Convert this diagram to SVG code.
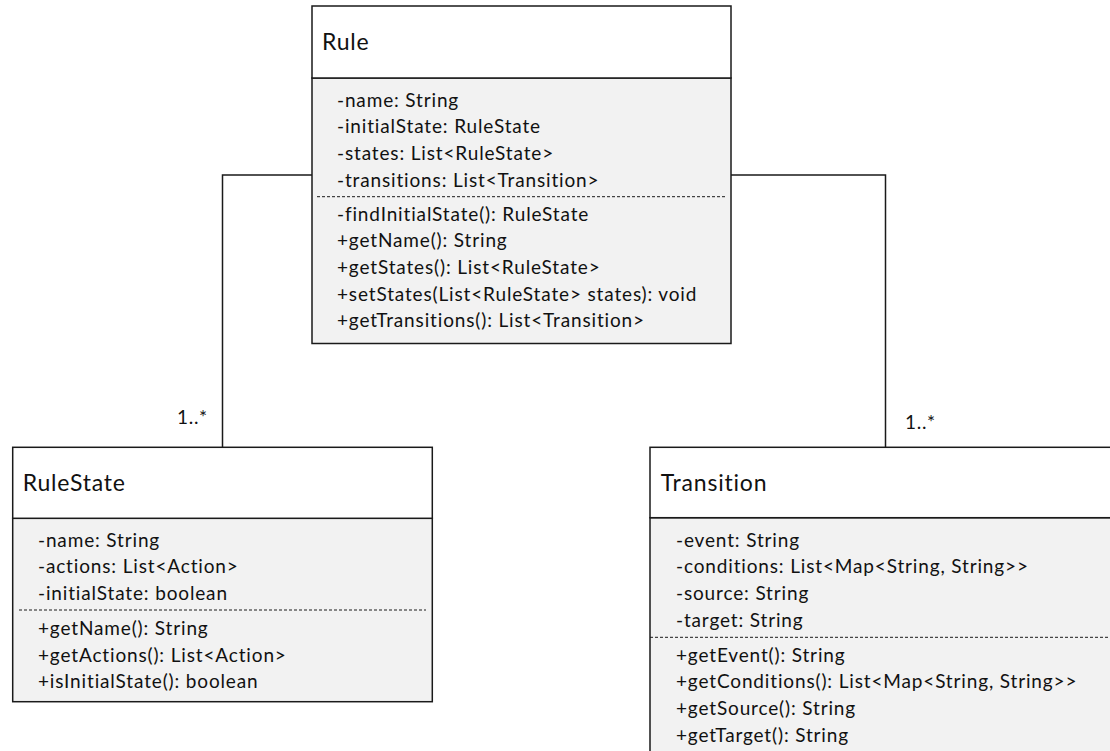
<svg xmlns="http://www.w3.org/2000/svg" width="1110" height="751" viewBox="0 0 1110 751">
  <style>
    .hdr { fill: #ffffff; stroke: #1a1a1a; stroke-width: 1.5; }
    .body { fill: #f2f2f2; stroke: #1a1a1a; stroke-width: 1.5; }
    .sep { stroke: #1a1a1a; stroke-width: 1; stroke-dasharray: 3 2; }
    .title { font-family: Lato, "Liberation Sans", sans-serif; font-size: 23px; letter-spacing: 0.8px; fill: #111; }
    .row { font-family: Lato, "Liberation Sans", sans-serif; font-size: 19px; letter-spacing: 0.85px; fill: #111; }
    .edge { fill: none; stroke: #1a1a1a; stroke-width: 1.5; }
    .mult { font-family: Lato, "Liberation Sans", sans-serif; font-size: 19px; letter-spacing: 0.7px; fill: #111; }
  </style>

  <!-- associations -->
  <g id="connectors">
    <polyline class="edge" points="312,175 222.5,175 222.5,447"/>
    <polyline class="edge" points="731,175 885.5,175 885.5,447"/>
    <text class="mult" x="177" y="424">1..*</text>
    <text class="mult" x="905" y="429">1..*</text>
  </g>

  <!-- Rule -->
  <g id="rule">
    <rect class="body" x="312" y="78" width="419" height="265.5"/>
    <rect class="hdr" x="312" y="6" width="419" height="72"/>
    <text class="title" x="322" y="50">Rule</text>
    <text class="row" x="337" y="106.5">-name: String</text>
    <text class="row" x="337" y="133.2">-initialState: RuleState</text>
    <text class="row" x="337" y="159.9">-states: List&lt;RuleState&gt;</text>
    <text class="row" x="337" y="186.6">-transitions: List&lt;Transition&gt;</text>
    <line class="sep" x1="317" y1="196.7" x2="726" y2="196.7"/>
    <text class="row" x="337" y="220.5">-findInitialState(): RuleState</text>
    <text class="row" x="337" y="247.2">+getName(): String</text>
    <text class="row" x="337" y="273.9">+getStates(): List&lt;RuleState&gt;</text>
    <text class="row" x="337" y="300.6">+setStates(List&lt;RuleState&gt; states): void</text>
    <text class="row" x="337" y="327.3">+getTransitions(): List&lt;Transition&gt;</text>
  </g>

  <!-- RuleState -->
  <g id="rulestate">
    <rect class="body" x="12.7" y="518.3" width="419.6" height="183.4"/>
    <rect class="hdr" x="12.7" y="447.3" width="419.6" height="71"/>
    <text class="title" x="22.7" y="490.7">RuleState</text>
    <text class="row" x="38" y="546.7">-name: String</text>
    <text class="row" x="38" y="573.3">-actions: List&lt;Action&gt;</text>
    <text class="row" x="38" y="600">-initialState: boolean</text>
    <line class="sep" x1="19" y1="610" x2="426" y2="610"/>
    <text class="row" x="38" y="635">+getName(): String</text>
    <text class="row" x="38" y="661.7">+getActions(): List&lt;Action&gt;</text>
    <text class="row" x="38" y="688.3">+isInitialState(): boolean</text>
  </g>

  <!-- Transition -->
  <g id="transition">
    <rect class="body" x="650" y="517.7" width="480" height="260"/>
    <rect class="hdr" x="650" y="447.3" width="480" height="70.4"/>
    <text class="title" x="660.7" y="490.7">Transition</text>
    <text class="row" x="676" y="546.7">-event: String</text>
    <text class="row" x="676" y="573.3">-conditions: List&lt;Map&lt;String, String&gt;&gt;</text>
    <text class="row" x="676" y="600">-source: String</text>
    <text class="row" x="676" y="626.7">-target: String</text>
    <line class="sep" x1="650" y1="637.3" x2="1110" y2="637.3"/>
    <text class="row" x="676" y="661.7">+getEvent(): String</text>
    <text class="row" x="676" y="688.3">+getConditions(): List&lt;Map&lt;String, String&gt;&gt;</text>
    <text class="row" x="676" y="715">+getSource(): String</text>
    <text class="row" x="676" y="741.7">+getTarget(): String</text>
  </g>
</svg>
